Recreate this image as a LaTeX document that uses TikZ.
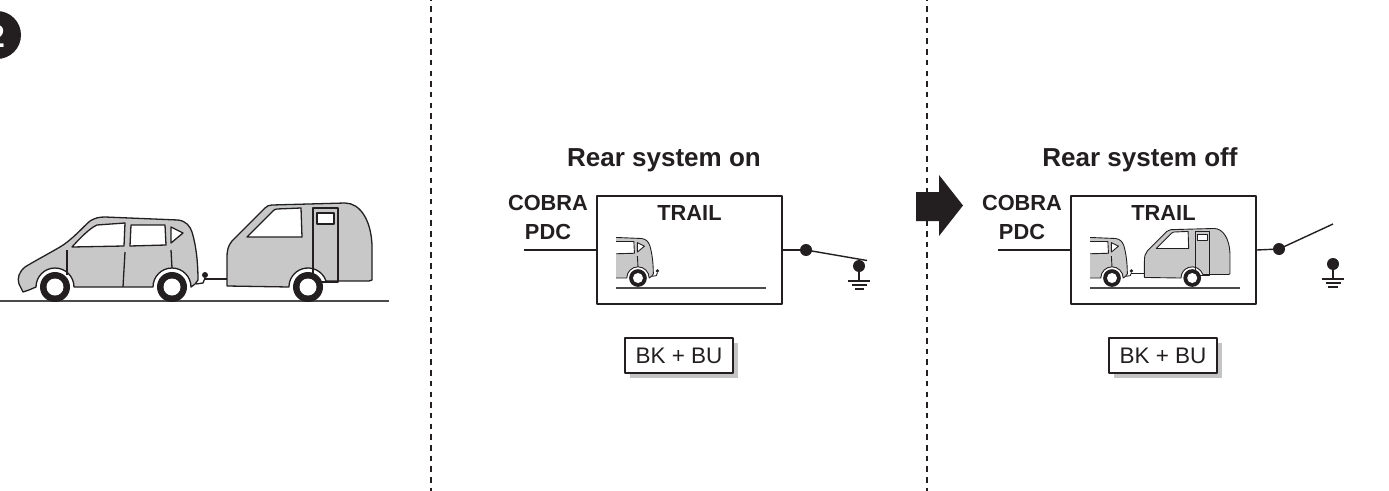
\documentclass[tikz,border=0pt]{standalone}
\usepackage{fontspec}
\setmainfont{Liberation Sans}
\usetikzlibrary{shadows}
\definecolor{ink}{HTML}{231F20}
\definecolor{bodygray}{HTML}{C8C8C8}
\definecolor{shadowgray}{HTML}{C4C4C4}
\definecolor{roadgray}{HTML}{4A4A4A}

% --- towing scene, drawn in its own pixel-like coordinates ---
\newcommand\tyre[1]{%
  \fill[ink] (#1) circle[radius=15];
  \fill[white] (#1) circle[radius=8.5];}
\newcommand\towcar{%
  \path[carline,fill=bodygray] (23,292) -- (19,284)
    .. controls (17,278) and (19,272) .. (25,267)
    .. controls (33,262) and (48,254) .. (60,247)
    .. controls (72,240) and (84,226) .. (90,221)
    .. controls (95,218) and (99,217) .. (105,217)
    -- (178,220) .. controls (186,221) and (190,226) .. (192,232)
    .. controls (196,245) and (198,262) .. (198,280)
    -- (195,284) -- (191,287)
    arc[start angle=0,end angle=-180,radius=19]
    -- (74,287) arc[start angle=0,end angle=-180,radius=19]
    -- (29,290) -- cycle;
  \path[carline,fill=white] (72,247) .. controls (80,238) and (90,228) .. (97,225)
    -- (125,223) -- (124,246) -- cycle;
  \path[carline,fill=white] (131,225) -- (165,225) -- (166,245) -- (130,246) -- cycle;
  \path[carline,fill=white] (171,227) -- (183,233) -- (171,243) -- cycle;
  \draw[carline] (67,250) -- (67,275);
  \draw[carline] (125,252) -- (123,287);
  \draw[carline] (171,250) -- (172,268);
  \tyre{55,287}
  \tyre{172,287}
  \draw[carline] (196,284) -- (203,283) -- (205,278);
  \fill[ink] (205,275) circle[radius=3];}
\newcommand\towtrailer{%
  \draw[carline] (205,279) -- (227,279);
  \path[carline,fill=bodygray] (227,286) -- (227,258)
    .. controls (227,250) and (228,246) .. (232,241)
    -- (265,208) .. controls (267,206) and (269,205) .. (272,205)
    -- (345,203) .. controls (360,203) and (371,220) .. (372,245)
    -- (372,280) -- (369,281) -- (326,281)
    arc[start angle=-18.4,end angle=-180,radius=19]
    -- cycle;
  \path[carline,fill=white] (247,237) -- (273,211)
    .. controls (274,210) and (275,209) .. (277,209)
    -- (301,208) -- (302,237) -- cycle;
  \draw[carline] (313,208) rectangle (338,282);
  \path[carline,fill=white] (317,213) rectangle (334,224);
  \tyre{308,287}}

\begin{document}
\begin{tikzpicture}[x=1pt,y=-1pt,line join=round,
  carline/.style={draw=ink,line width=1.3pt},
  road/.style={draw=roadgray,line width=2pt},
  divider/.style={draw=ink,line width=2.2pt,dash pattern=on 5.5pt off 5.2pt},
  panelbox/.style={draw=ink,line width=1.5pt,fill=white,minimum width=185pt,
    minimum height=108pt,inner sep=0pt},
  boxlabel/.style={font=\bfseries\fontsize{21.8}{29}\selectfont,text=ink,
    align=center,inner sep=0pt},
  title/.style={font=\bfseries\fontsize{26}{30}\selectfont,text=ink,inner sep=0pt},
  wire/.style={draw=ink,line width=1.4pt},
  junction/.style={circle,fill=ink,inner sep=0pt,minimum size=12pt},
  earthbar/.style={draw=ink,line width=1.6pt},
  tag/.style={draw=ink,line width=1.5pt,fill=white,minimum width=108pt,
    minimum height=35pt,inner sep=0pt,font=\fontsize{22.5}{24}\selectfont,
    text=ink,drop shadow={shadow xshift=5pt,shadow yshift=-5pt,
    fill=shadowgray,opacity=1}},
]
\clip (0,0) rectangle (1389,490);
\fill[white] (0,0) rectangle (1389,490);

% step badge
\node[circle,fill=ink,minimum size=48pt,inner sep=0pt] (badge) at (-3,35) {};
\node[text=white,font=\bfseries\fontsize{32}{32}\selectfont] (badgenum) at (-4,36) {2};

% panel dividers
\draw[divider] (431,-4.4) -- (431,495);
\draw[divider] (927,-4.4) -- (927,495);

% left panel: car towing a caravan
\draw[road] (0,301) -- (389,301);
\towcar
\towtrailer

% middle panel: rear system on
\node[title] (titleA) at (664,160) {Rear system on};
\node[boxlabel] (cobraA) at (548,217.5) {COBRA\\PDC};
\node[panelbox] (trailA) at (689.5,250) {};
\node[boxlabel] (trailAlabel) at (689.5,213) {TRAIL};
\begin{scope}
  \clip (616,198) rectangle (780,302);
  \begin{scope}[shift={(536.5,108.7)},scale=0.59,carline/.style={draw=ink,line width=0.9pt}]
    \towcar
  \end{scope}
\end{scope}
\draw[road,line width=1.6pt] (616,288) -- (766,288);
\coordinate (inA) at (524,250);
\draw[wire] (inA) -- (trailA.west);
\node[junction] (dotA) at (806,250) {};
\node[junction] (gndA) at (859,266) {};
\coordinate (swA) at (867,260.5);
\draw[wire] (trailA.east) -- (dotA);
\draw[wire] (dotA.center) -- (swA);
\draw[wire] (gndA.center) -- (859,281);
\draw[earthbar] (848,281) -- (870,281);
\draw[earthbar] (851.5,285) -- (866.5,285);
\draw[earthbar] (854.5,289) -- (863.5,289);
\node[tag] (tagA) at (679,355.5) {BK + BU};

% changeover arrow
\fill[ink] (916,192) -- (939,192) -- (939,175) -- (963,205.5)
  -- (939,236) -- (939,221) -- (916,221) -- cycle;

% right panel: rear system off
\node[title] (titleB) at (1140,160) {Rear system off};
\node[boxlabel] (cobraB) at (1022,217.5) {COBRA\\PDC};
\node[panelbox] (trailB) at (1163.5,250) {};
\node[boxlabel] (trailBlabel) at (1163.5,213) {TRAIL};
\begin{scope}
  \clip (1090,198) rectangle (1254,302);
  \begin{scope}[shift={(1010.5,108.7)},scale=0.59,carline/.style={draw=ink,line width=0.9pt}]
    \towcar
    \towtrailer
  \end{scope}
\end{scope}
\draw[road,line width=1.6pt] (1090,288) -- (1240,288);
\coordinate (inB) at (998,250);
\draw[wire] (inB) -- (trailB.west);
\node[junction] (dotB) at (1279,249) {};
\node[junction] (gndB) at (1333,264) {};
\coordinate (swB) at (1333,224);
\draw[wire] (trailB.east) -- (dotB);
\draw[wire] (dotB.center) -- (swB);
\draw[wire] (gndB.center) -- (1333,279);
\draw[earthbar] (1322,279) -- (1344,279);
\draw[earthbar] (1325.5,283) -- (1340.5,283);
\draw[earthbar] (1328,287) -- (1338,287);
\node[tag] (tagB) at (1163,355.5) {BK + BU};
\end{tikzpicture}
\end{document}
